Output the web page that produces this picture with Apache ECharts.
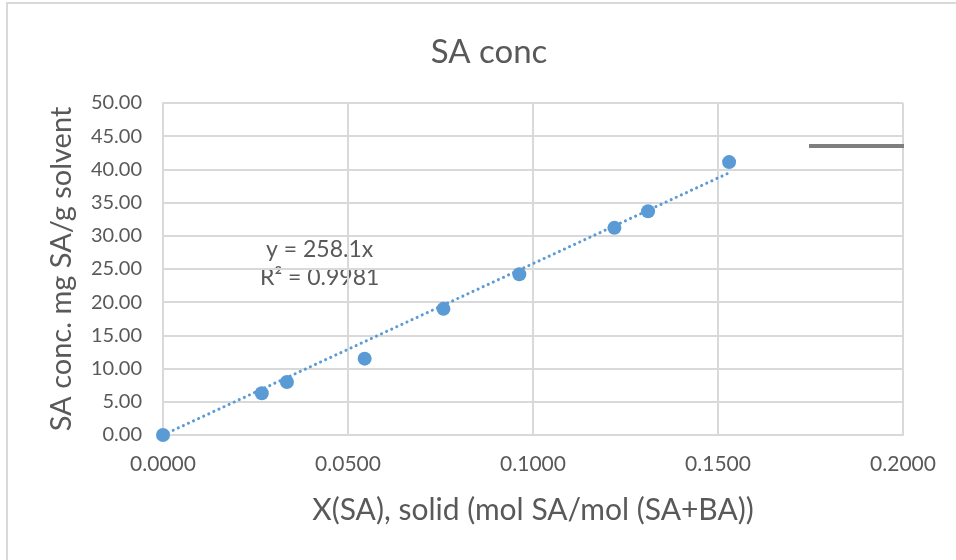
<!DOCTYPE html>
<html>
<head>
<meta charset="utf-8">
<script src="https://cdn.jsdelivr.net/npm/echarts@6/dist/echarts.min.js"></script>
<style>
  html, body { margin: 0; padding: 0; background: #ffffff; }
  #chart { width: 956px; height: 560px; }
</style>
</head>
<body>
<div id="chart"></div>
<script>
// Measured solubility of SA vs. its mole fraction in the solid
const xSA = [0.0000, 0.0267, 0.0335, 0.0545, 0.0758, 0.0963, 0.1220, 0.1311, 0.1530];
const concSA = [0.00, 6.28, 7.98, 11.50, 19.00, 24.20, 31.20, 33.70, 41.10];

// Linear fit through the origin
const slope = 258.1;
const rSquared = 0.9981;

const xTicks = [0.0000, 0.0500, 0.1000, 0.1500, 0.2000];
const yTicks = [0, 5, 10, 15, 20, 25, 30, 35, 40, 45, 50];

const points = xSA.map((x, i) => [x, concSA[i]]);
const xMax = Math.max(...xSA);
const fitLine = [[0, 0], [xMax, slope * xMax]];

const FONT = 'Lato';
const TEXT = '#595959';
const GRID = '#d9d9d9';
const BLUE = '#5B9BD5';

const chart = echarts.init(document.getElementById('chart'), null, { renderer: 'canvas' });

chart.setOption({
  backgroundColor: '#ffffff',
  animation: false,
  textStyle: { fontFamily: FONT, color: TEXT },
  title: {
    text: 'SA conc',
    left: 484,
    top: 31,
    textAlign: 'center',
    textStyle: { fontFamily: FONT, fontSize: 33, fontWeight: 'normal', color: TEXT }
  },
  legend: {
    left: 804,
    top: 139,
    itemWidth: 95,
    itemHeight: 4,
    itemGap: 0,
    data: [{ name: 'Linear', icon: 'rect' }],
    formatter: () => '',
    selectedMode: false
  },
  grid: { left: 163, right: 53, top: 103, bottom: 125, containLabel: false },
  xAxis: {
    type: 'value',
    min: xTicks[0],
    max: xTicks[xTicks.length - 1],
    interval: 0.05,
    name: 'X(SA), solid (mol SA/mol (SA+BA))',
    nameLocation: 'middle',
    nameGap: 60,
    nameTextStyle: { fontFamily: FONT, fontSize: 30, color: TEXT },
    axisLine: { show: true, lineStyle: { color: GRID, width: 2 } },
    axisTick: { show: false },
    axisLabel: {
      fontFamily: FONT, fontSize: 21, color: TEXT, margin: 19,
      formatter: v => v.toFixed(4)
    },
    splitLine: { show: true, lineStyle: { color: GRID, width: 2 } }
  },
  yAxis: {
    type: 'value',
    min: yTicks[0],
    max: yTicks[yTicks.length - 1],
    interval: 5,
    name: 'SA conc. mg SA/g solvent',
    nameLocation: 'middle',
    nameGap: 87,
    nameTextStyle: { fontFamily: FONT, fontSize: 29, color: TEXT },
    axisLine: { show: true, lineStyle: { color: GRID, width: 2 } },
    axisTick: { show: false },
    axisLabel: {
      fontFamily: FONT, fontSize: 20, color: TEXT, margin: 21,
      formatter: v => v.toFixed(2)
    },
    splitLine: { show: true, lineStyle: { color: GRID, width: 2 } }
  },
  graphic: [
    {
      type: 'rect',
      silent: true,
      z: -10,
      shape: { x: 7, y: 3, width: 1000, height: 600 },
      style: { fill: '#ffffff', stroke: GRID, lineWidth: 2 }
    },
    {
      type: 'text',
      left: 266,
      top: 238,
      style: {
        text: 'y = ' + slope + 'x',
        font: '23px ' + FONT,
        fill: TEXT
      }
    },
    {
      type: 'text',
      left: 260,
      top: 266,
      style: {
        text: 'R² = ' + rSquared,
        font: '23px ' + FONT,
        fill: TEXT
      }
    }
  ],
  series: [
    {
      name: 'Linear',
      type: 'line',
      data: [],
      itemStyle: { color: '#7f7f7f' },
      lineStyle: { color: '#7f7f7f' }
    },
    {
      name: 'Trend',
      type: 'line',
      data: fitLine,
      showSymbol: false,
      symbol: 'none',
      z: 2,
      lineStyle: { color: BLUE, width: 3, type: [0.1, 5.5], cap: 'round' }
    },
    {
      name: 'SA conc',
      type: 'scatter',
      data: points,
      symbol: 'circle',
      symbolSize: 14,
      z: 3,
      itemStyle: { color: BLUE, opacity: 1 }
    }
  ]
});
</script>
</body>
</html>
